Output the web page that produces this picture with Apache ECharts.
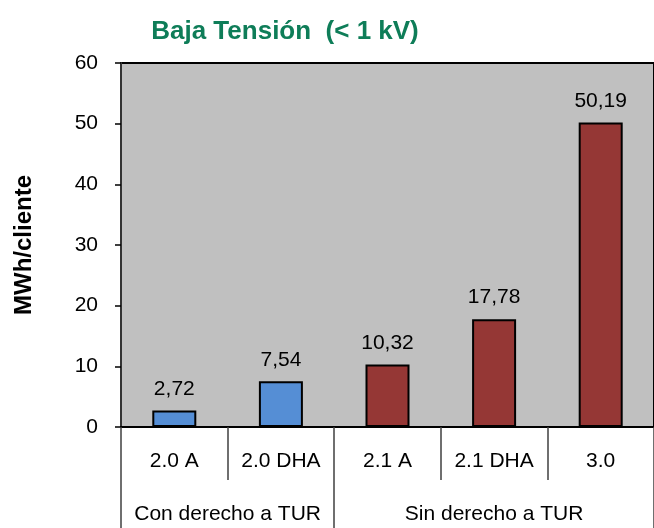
<!DOCTYPE html>
<html>
<head>
<meta charset="utf-8">
<script src="https://cdn.jsdelivr.net/npm/echarts@6/dist/echarts.min.js"></script>
<style>
  html, body { margin: 0; padding: 0; background: #fff; }
  #main { width: 654px; height: 528px; }
</style>
</head>
<body>
<div id="main"></div>
<script>
// datos del grafico
var tarifas = ['2.0 A', '2.0 DHA', '2.1 A', '2.1 DHA', '3.0'];
var consumo = [2.72, 7.54, 10.32, 17.78, 50.19];
var colores = ['#558ED5', '#558ED5', '#953735', '#953735', '#953735'];
var grupos = ['Con derecho a TUR', 'Sin derecho a TUR'];
var grupoTamanos = [2, 3];

// limites y centros de grupos (en unidades de categoria)
var grupoLimites = [0];
var grupoCentros = [];
grupoTamanos.forEach(function (n) {
    var ini = grupoLimites[grupoLimites.length - 1];
    grupoCentros.push(ini + n / 2);
    grupoLimites.push(ini + n);
});

var myChart = echarts.init(document.getElementById('main'));

var fuente = 'Liberation Sans, Arial, sans-serif';

var option = {
    animation: false,
    title: {
        text: 'Baja Tensión  (< 1 kV)',
        left: 280,
        top: 14,
        textAlign: 'center',
        textStyle: {
            color: '#0E7D58',
            fontSize: 26,
            fontWeight: 'bold',
            fontFamily: fuente
        }
    },
    grid: {
        left: 121,
        right: -2,
        top: 63,
        bottom: 101,
        show: true,
        backgroundColor: '#C0C0C0',
        borderColor: '#000',
        borderWidth: 2
    },
    xAxis: [
        {
            type: 'category',
            data: tarifas,
            position: 'bottom',
            axisLine: { lineStyle: { color: '#000', width: 2 } },
            axisTick: { show: true, length: 53, lineStyle: { color: '#404040', width: 1.5 } },
            axisLabel: { margin: 24, color: '#000', fontSize: 21, fontFamily: fuente }
        },
        {
            type: 'value',
            min: 0,
            max: tarifas.length,
            position: 'bottom',
            axisLine: { show: false },
            splitLine: { show: false },
            axisTick: {
                show: true,
                length: 101,
                customValues: grupoLimites,
                lineStyle: { color: '#404040', width: 1.5 }
            },
            axisLabel: {
                margin: 77,
                color: '#000',
                fontSize: 21,
                fontFamily: fuente,
                customValues: grupoCentros,
                formatter: function (v) {
                    var i = grupoCentros.indexOf(v);
                    return i >= 0 ? grupos[i] : '';
                }
            }
        }
    ],
    yAxis: {
        type: 'value',
        min: 0,
        max: 60,
        interval: 10,
        name: 'MWh/cliente',
        nameLocation: 'middle',
        nameGap: 85,
        nameTextStyle: { color: '#000', fontSize: 24, fontWeight: 'bold', fontFamily: fuente },
        axisLine: { show: true, lineStyle: { color: '#333', width: 2 } },
        axisTick: { show: true, length: 6, lineStyle: { color: '#000', width: 1.5 } },
        splitLine: { show: false },
        axisLabel: { margin: 23, color: '#000', fontSize: 21, fontFamily: fuente }
    },
    series: [
        {
            type: 'bar',
            xAxisIndex: 0,
            barWidth: 44,
            data: consumo.map(function (v, i) {
                return { value: v, itemStyle: { color: colores[i] } };
            }),
            itemStyle: { borderColor: '#000', borderWidth: 2 },
            label: {
                show: true,
                position: 'top',
                distance: 11,
                color: '#000',
                fontSize: 21,
                fontFamily: fuente,
                formatter: function (p) {
                    return p.value.toFixed(2).replace('.', ',');
                }
            }
        }
    ]
};

myChart.setOption(option);
</script>
</body>
</html>
